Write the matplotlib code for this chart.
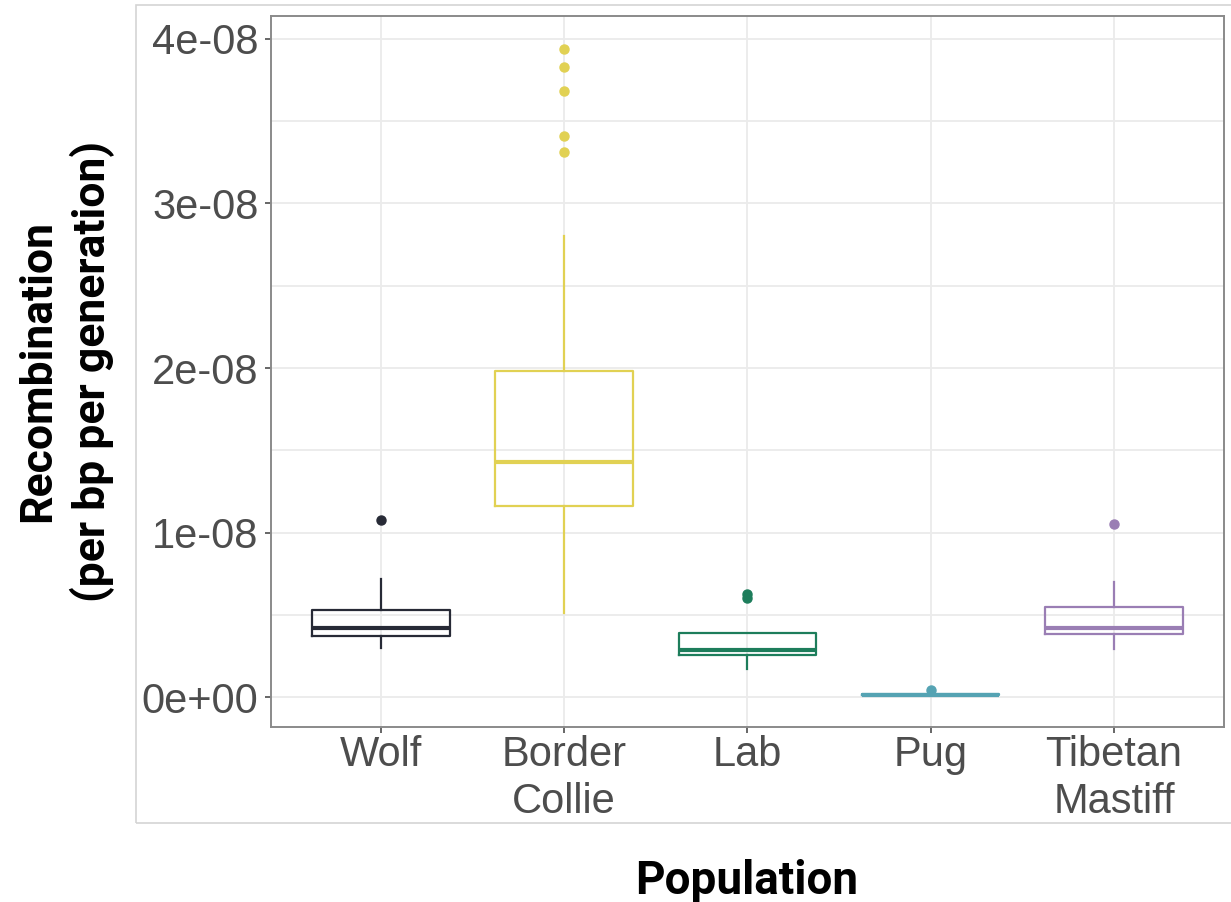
import matplotlib
matplotlib.use("Agg")
import matplotlib.pyplot as plt
from matplotlib.patches import Rectangle

# Box summary values (units of 1e-8 per bp per generation)
populations = ["Wolf", "Border\nCollie", "Lab", "Pug", "Tibetan\nMastiff"]
colors = ["#272a36", "#e1d153", "#1d7d5b", "#55a3b3", "#9a7eb4"]
q1 = [0.37, 1.16, 0.26, 0.012, 0.386]
medians = [0.42, 1.43, 0.285, 0.015, 0.42]
q3 = [0.53, 1.98, 0.39, 0.02, 0.548]
whisker_low = [0.30, 0.51, 0.174, 0.006, 0.295]
whisker_high = [0.72, 2.80, 0.39, 0.03, 0.70]
outliers = [
    [1.078],
    [3.94, 3.83, 3.68, 3.41, 3.31],
    [0.63, 0.605],
    [0.045],
    [1.052],
]
scale = 1e-8
y_ticks = [0, 1e-8, 2e-8, 3e-8, 4e-8]
y_tick_labels = ["0e+00", "1e-08", "2e-08", "3e-08", "4e-08"]

fig = plt.figure(figsize=(12.31, 9.02), dpi=100)
ax = fig.add_axes([0.2201, 0.194, 0.7742, 0.7886])

# light frame around the plot background
fig.patches.append(Rectangle((0.1105, 0.0876), 0.95, 0.907, transform=fig.transFigure,
                             fill=False, ec="#d4d4d4", lw=1.2, zorder=0))

# grid like theme_bw
for v in [i * 0.5e-8 for i in range(0, 9)]:
    ax.axhline(v, color="#ebebeb", lw=1.3, zorder=0)
for i in range(len(populations)):
    ax.axvline(i + 1, color="#ebebeb", lw=1.3, zorder=0)

for i, name in enumerate(populations):
    stats = [{
        "med": medians[i] * scale,
        "q1": q1[i] * scale,
        "q3": q3[i] * scale,
        "whislo": whisker_low[i] * scale,
        "whishi": whisker_high[i] * scale,
        "fliers": [v * scale for v in outliers[i]],
    }]
    c = colors[i]
    ax.bxp(stats, positions=[i + 1], widths=0.75, showcaps=False, patch_artist=False,
           boxprops=dict(color=c, lw=1.6),
           medianprops=dict(color=c, lw=3.0),
           whiskerprops=dict(color=c, lw=1.6),
           flierprops=dict(marker="o", markerfacecolor=c, markeredgecolor=c, markersize=6.5),
           manage_ticks=False, zorder=3)

ax.set_xlim(0.4, 5.6)
ax.set_ylim(-0.18e-8, 4.14e-8)
ax.set_xticks(range(1, len(populations) + 1))
ax.set_xticklabels(populations, fontsize=30, color="#4d4d4d", family="Liberation Sans",
                   linespacing=1.22)
ax.set_yticks(y_ticks)
ax.set_yticklabels(y_tick_labels, fontsize=30, color="#4d4d4d", family="Liberation Sans")
ax.tick_params(axis="both", length=4, width=1.2, color="#4d4d4d")
ax.tick_params(axis="y", pad=5)
ax.tick_params(axis="x", pad=2)

for s in ax.spines.values():
    s.set_color("#8a8a8a")
    s.set_linewidth(1.4)

# x title placed on a fixed baseline near the bottom edge, as in the reference
fig.text(0.6068, 0.0085, "Population", fontsize=33, fontweight="bold", family="Roboto",
         ha="center", va="baseline")
ax.set_ylabel("Recombination\n(per bp per generation)", fontsize=32, fontweight="bold",
              family="Roboto", labelpad=19, linespacing=1.32)

fig.savefig("out.png", dpi=100)
